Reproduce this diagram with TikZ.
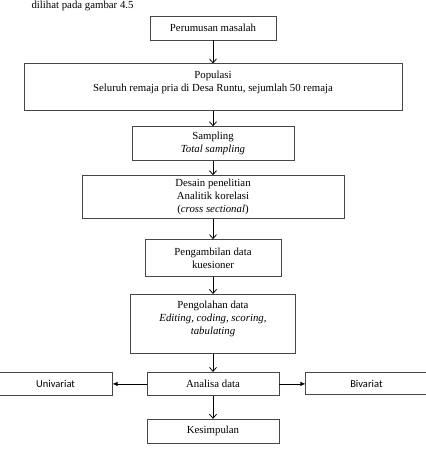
\documentclass[tikz,border=0pt]{standalone}
\usepackage{fontspec}
\setmainfont{Liberation Serif}
\newfontfamily\boxsans{Carlito}
\usepackage{xcolor}
\usepackage{tikz}
\usetikzlibrary{arrows.meta, positioning, calc}
\definecolor{boxgray}{RGB}{70, 70, 70}

\begin{document}
\begin{tikzpicture}[
  x=1pt, y=1pt,
  node distance=20pt,
  fstep/.style={rectangle, draw=boxgray, line width=0.9pt, align=center, inner sep=1pt,
               font=\fontsize{10.8}{13}\selectfont},
  sidebox/.style={fstep, font=\boxsans\fontsize{10.5}{12}\selectfont},
  arrow/.style={-{Straight Barb[length=4pt, width=7pt]}, line width=0.8pt},
  sidearrow/.style={-{Latex[length=5pt, width=4.5pt]}, line width=0.8pt}
]
\useasboundingbox (0,0) rectangle (426,-451);

\node[anchor=base west, font=\fontsize{10.8}{12}\selectfont] (intro) at (28,-8.5) {dilihat pada gambar 4.5};

\node[fstep, minimum width=126pt, minimum height=24pt] (s1) at (213,-28) {Perumusan masalah};
\node[fstep, minimum width=378pt, minimum height=47pt, below=23pt of s1] (s2)
  {Populasi\\Seluruh remaja pria di Desa Runtu, sejumlah 50 remaja\\ \mbox{}};
\node[fstep, minimum width=162pt, minimum height=34pt, below=15pt of s2] (s3)
  {Sampling\\\textit{Total sampling}};
\node[fstep, minimum width=262pt, minimum height=43pt, below=14pt of s3] (s4)
  {Desain penelitian\\Analitik korelasi\\(\textit{cross sectional})};
\node[fstep, minimum width=136pt, minimum height=37pt, below=20pt of s4] (s5)
  {Pengambilan data\\kuesioner};
\node[fstep, minimum width=165pt, minimum height=59pt, below=17pt of s5] (s6)
  {Pengolahan data\\\textit{Editing, coding, scoring,}\\\textit{tabulating}\\ \mbox{}};
\node[fstep, minimum width=132pt, minimum height=23pt, below=18pt of s6] (s7) {Analisa data};
\node[fstep, minimum width=132pt, minimum height=24pt, below=23pt of s7] (s8) {Kesimpulan};

\node[sidebox, minimum width=113pt, minimum height=23pt, left=34pt of s7] (uni) {Univariat};
\node[sidebox, minimum width=121pt, minimum height=22pt, right=26pt of s7] (bi) {Bivariat};

\foreach \a/\b in {s1/s2, s2/s3, s3/s4, s4/s5, s5/s6, s6/s7, s7/s8}
  \draw[arrow] (\a.south) -- (\a.south |- \b.north);

\draw[sidearrow] (s7.west) -- (uni.east);
\draw[sidearrow] (s7.east) -- (bi.west);

\end{tikzpicture}
\end{document}
